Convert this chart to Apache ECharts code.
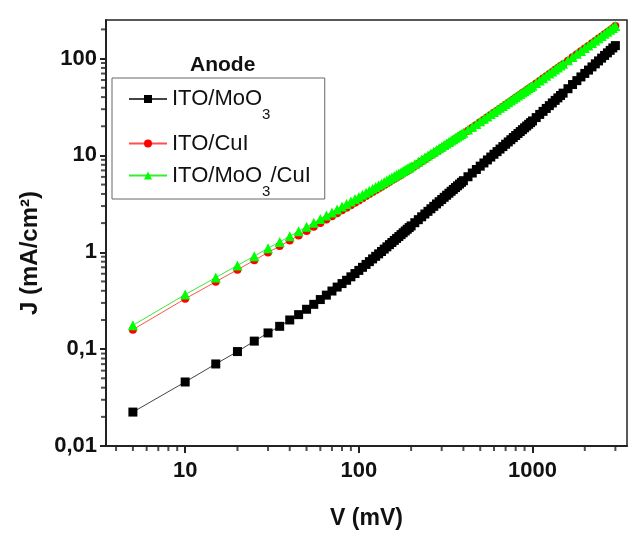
<!DOCTYPE html>
<html>
<head>
<meta charset="utf-8">
<script src="https://cdn.jsdelivr.net/npm/echarts@6/dist/echarts.min.js"></script>
<style>
  html, body { margin: 0; padding: 0; background: #fff; }
  #chart { width: 640px; height: 538px; }
</style>
</head>
<body>
<div id="chart"></div>
<script>
// bias voltage (mV)
const voltage = [
  5, 10, 15, 20, 25, 30, 35, 40, 45, 50, 55, 60, 65, 70, 75, 80, 85, 90, 95, 100,
  105, 110, 115, 120, 125, 130, 135, 140, 145, 150, 155, 160, 165, 170, 175, 180, 185, 190, 195, 200,
  210, 220, 230, 240, 250, 260, 270, 280, 290, 300, 310, 320, 330, 340, 350, 360, 370, 380, 390, 400,
  425, 450, 475, 500, 525, 550, 575, 600, 625, 650, 675, 700, 725, 750, 775, 800, 825, 850, 875, 900, 925, 950, 975, 1000,
  1050, 1100, 1150, 1200, 1250, 1300, 1350, 1400, 1450, 1500,
  1600, 1700, 1800, 1900, 2000, 2100, 2200, 2300, 2400, 2500, 2600, 2700, 2800, 2900, 3000
];

// current density J (mA/cm2)
const jMoO3 = [
  0.0224, 0.0458, 0.0703, 0.0944, 0.121, 0.147, 0.172, 0.200, 0.227, 0.258, 0.290, 0.325, 0.361, 0.398, 0.437, 0.475, 0.514, 0.558, 0.603, 0.650,
  0.699, 0.749, 0.801, 0.854, 0.908, 0.963, 1.019, 1.078, 1.138, 1.200, 1.262, 1.325, 1.390, 1.455, 1.522, 1.590, 1.659, 1.729, 1.800, 1.872,
  2.019, 2.170, 2.324, 2.483, 2.645, 2.811, 2.981, 3.154, 3.330, 3.509, 3.692, 3.879, 4.069, 4.262, 4.457, 4.656, 4.858, 5.063, 5.271, 5.482,
  6.022, 6.581, 7.155, 7.748, 8.356, 8.981, 9.616, 10.28, 10.95, 11.63, 12.33, 13.05, 13.78, 14.52, 15.28, 16.05, 16.84, 17.63, 18.44, 19.27, 20.10, 20.95, 21.81, 22.69,
  24.57, 26.50, 28.49, 30.54, 32.65, 34.80, 37.00, 39.26, 41.57, 43.94,
  48.81, 53.90, 59.15, 64.60, 70.22, 76.04, 82.01, 88.20, 94.52, 101.0, 107.7, 114.5, 121.5, 128.7, 136.0
];
const jCuI = [
  0.159, 0.331, 0.496, 0.662, 0.825, 0.996, 1.158, 1.321, 1.493, 1.656, 1.834, 2.002, 2.175, 2.353, 2.529, 2.708, 2.885, 3.063, 3.250, 3.432,
  3.616, 3.805, 3.992, 4.183, 4.372, 4.565, 4.754, 4.951, 5.141, 5.339, 5.532, 5.731, 5.926, 6.128, 6.325, 6.528, 6.726, 6.931, 7.130, 7.338,
  7.770, 8.214, 8.653, 9.097, 9.554, 10.01, 10.46, 10.93, 11.39, 11.85, 12.33, 12.81, 13.29, 13.77, 14.24, 14.73, 15.23, 15.72, 16.22, 16.71,
  18.02, 19.32, 20.65, 22.01, 23.35, 24.75, 26.13, 27.55, 28.98, 30.40, 31.87, 33.31, 34.80, 36.31, 37.80, 39.32, 40.83, 42.39, 43.96, 45.49, 47.09, 48.65, 50.26, 51.90,
  55.27, 58.69, 62.16, 65.66, 69.21, 72.81, 76.43, 80.11, 83.80, 87.56,
  95.16, 102.9, 110.8, 118.8, 126.9, 135.1, 143.5, 152.0, 160.6, 169.3, 178.0, 186.9, 195.9, 204.9, 216.3
];
const jMoO3CuI = [
  0.176, 0.366, 0.548, 0.732, 0.912, 1.10, 1.28, 1.46, 1.65, 1.83, 2.02, 2.20, 2.39, 2.58, 2.77, 2.96, 3.15, 3.34, 3.54, 3.73,
  3.926, 4.122, 4.320, 4.517, 4.716, 4.914, 5.112, 5.312, 5.510, 5.710, 5.910, 6.110, 6.311, 6.512, 6.714, 6.915, 7.117, 7.319, 7.521, 7.724,
  8.170, 8.619, 9.070, 9.526, 9.983, 10.45, 10.91, 11.37, 11.84, 12.31, 12.79, 13.26, 13.74, 14.22, 14.70, 15.19, 15.67, 16.16, 16.65, 17.14,
  18.46, 19.79, 21.14, 22.50, 23.88, 25.28, 26.69, 28.11, 29.54, 30.99, 32.45, 33.92, 35.40, 36.90, 38.41, 39.92, 41.45, 42.99, 44.54, 46.09, 47.66, 49.24, 50.82, 52.42,
  55.83, 59.28, 62.78, 66.32, 69.91, 73.55, 77.20, 80.92, 84.65, 88.44,
  96.12, 103.9, 111.9, 120.0, 128.2, 136.5, 144.9, 153.5, 162.2, 171.0, 179.8, 188.8, 197.9, 207.0, 216.3
];

const seriesNames = ['ITO/MoO3', 'ITO/CuI', 'ITO/MoO3/CuI'];

const xMin = 3.5, xMax = 3500, yMin = 0.01, yMax = 250;
const xMajor = [10, 100, 1000];
const xMinor = [4, 5, 6, 7, 8, 9, 20, 30, 40, 50, 60, 70, 80, 90, 200, 300, 400, 500, 600, 700, 800, 900, 2000, 3000];
const yMajor = [0.01, 0.1, 1, 10, 100];
const yMinor = [0.02, 0.03, 0.04, 0.05, 0.06, 0.07, 0.08, 0.09, 0.2, 0.3, 0.4, 0.5, 0.6, 0.7, 0.8, 0.9,
  2, 3, 4, 5, 6, 7, 8, 9, 20, 30, 40, 50, 60, 70, 80, 90, 200];

const FONT = '"Liberation Sans", Arial, sans-serif';
const INK = '#222';
const pairs = (ys) => voltage.map((v, i) => [v, ys[i]]);
const plain = (v) => String(v).replace('.', ',');

const chart = echarts.init(document.getElementById('chart'));

// short outward minor ticks, placed on the axis lines through the axes' own scales
const minorTicks = (data, size, offset) => ({
  type: 'scatter', data, symbol: 'rect', symbolSize: size, symbolOffset: offset,
  itemStyle: { color: INK }, clip: false, silent: true, z: 1
});

chart.setOption({
  animation: false,
  backgroundColor: '#fff',
  grid: { left: 106, right: 13, top: 20, bottom: 92, show: true, borderColor: INK, borderWidth: 1.5 },
  title: {
    text: 'Anode', left: 190, top: 55, padding: 0,
    textStyle: { fontFamily: FONT, fontSize: 21, fontWeight: 'bold', color: '#111' }
  },
  legend: {
    orient: 'vertical', left: 112, top: 78,
    padding: [10, 14, 0, 16], itemGap: 10,
    borderColor: '#666', borderWidth: 1,
    itemWidth: 38, itemHeight: 10,
    data: seriesNames,
    formatter: (name) => name.replace('MoO3', 'MoO{sub|3}'),
    textStyle: {
      fontFamily: FONT, fontSize: 22, color: '#111',
      rich: { sub: { fontFamily: FONT, fontSize: 15, color: '#111', padding: [32, 0, 0, 0] } }
    }
  },
  xAxis: {
    type: 'log', logBase: 10, min: xMin, max: xMax,
    name: 'V (mV)', nameLocation: 'middle', nameGap: 61,
    nameTextStyle: { fontFamily: FONT, fontSize: 23, fontWeight: 'bold', color: '#111' },
    splitLine: { show: false },
    axisLine: { lineStyle: { color: INK, width: 2 } },
    axisTick: { length: 7, lineStyle: { color: INK, width: 2 }, customValues: xMajor },
    axisLabel: { margin: 14, customValues: xMajor, formatter: plain, fontFamily: FONT, fontSize: 22, fontWeight: 'bold', color: '#111' }
  },
  yAxis: {
    type: 'log', logBase: 10, min: yMin, max: yMax,
    name: 'J (mA/cm²)', nameLocation: 'middle', nameGap: 64,
    nameTextStyle: { fontFamily: FONT, fontSize: 24, fontWeight: 'bold', color: '#111', padding: [0, 40, 0, 0] },
    splitLine: { show: false },
    axisLine: { lineStyle: { color: INK, width: 2 } },
    axisTick: { length: 6, lineStyle: { color: INK, width: 2 }, customValues: yMajor },
    axisLabel: { margin: 9, customValues: yMajor, formatter: plain, fontFamily: FONT, fontSize: 22, fontWeight: 'bold', color: '#111' }
  },
  series: [
    minorTicks(xMinor.map((v) => [v, yMin]), [2, 5], [0, 2.5]),
    minorTicks(yMinor.map((v) => [xMin, v]), [5, 2], [-2.5, 0]),
    {
      name: seriesNames[0], type: 'line', data: pairs(jMoO3),
      symbol: 'rect', symbolSize: 9,
      itemStyle: { color: '#000' }, lineStyle: { color: '#444', width: 1 }
    },
    {
      name: seriesNames[1], type: 'line', data: pairs(jCuI),
      symbol: 'circle', symbolSize: 8,
      itemStyle: { color: '#ff0000' }, lineStyle: { color: '#ff5050', width: 1 }
    },
    {
      name: seriesNames[2], type: 'line', data: pairs(jMoO3CuI),
      symbol: 'triangle', symbolSize: 10,
      itemStyle: { color: '#00ff00' }, lineStyle: { color: '#33ee33', width: 1 }
    }
  ]
});
</script>
</body>
</html>
